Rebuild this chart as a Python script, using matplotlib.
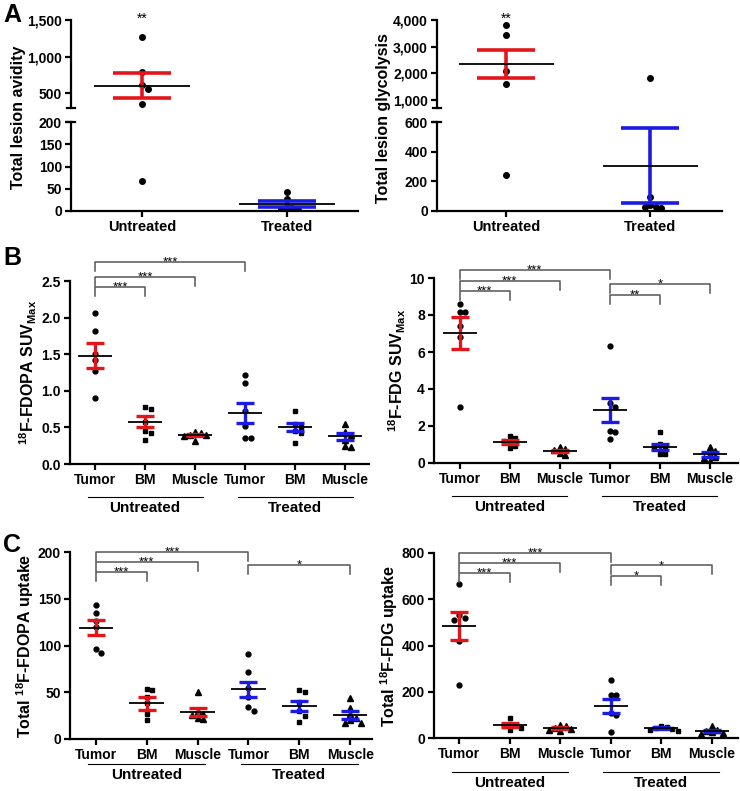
import matplotlib
matplotlib.use("Agg")
import matplotlib.pyplot as plt
import matplotlib.transforms as mtransforms
from matplotlib.ticker import FuncFormatter

plt.rcParams['font.family'] = ['Liberation Sans', 'DejaVu Sans']
plt.rcParams['font.weight'] = 'bold'
plt.rcParams['axes.labelweight'] = 'bold'
plt.rcParams['mathtext.fontset'] = 'custom'
plt.rcParams['mathtext.rm'] = 'Liberation Sans:bold'
plt.rcParams['mathtext.it'] = 'Liberation Sans:bold'
plt.rcParams['mathtext.bf'] = 'Liberation Sans:bold'
plt.rcParams['mathtext.default'] = 'rm'

RED = "#e3151b"
BLUE = "#1b1be3"
W, H = 740, 791

# ---- panel A data ----
groups = ["Untreated", "Treated"]
avidity_untreated = [1265, 790, 615, 550, 346, 67]
avidity_treated = [42, 28, 10, 6, 4, 3]
avidity_mean = [600, 15]
avidity_sem = [170, 7]

glyco_untreated = [3800, 3440, 2100, 1590, 245]
glyco_treated = [1810, 95, 40, 30, 25, 20]
glyco_mean = [2340, 306]
glyco_sem = [530, 255]

# ---- panels B, C data ----
categories = ["Tumor", "BM", "Muscle", "Tumor", "BM", "Muscle"]
markers = ["o", "s", "^", "o", "s", "^"]

fdopa_suv = [[2.06, 1.82, 1.50, 1.42, 1.27, 0.90],
             [0.78, 0.75, 0.58, 0.45, 0.42, 0.33],
             [0.44, 0.42, 0.40, 0.39, 0.38, 0.31],
             [1.22, 1.11, 0.72, 0.52, 0.36, 0.36],
             [0.73, 0.55, 0.50, 0.45, 0.42, 0.29],
             [0.55, 0.44, 0.40, 0.33, 0.25, 0.23]]
fdopa_suv_mean = [1.48, 0.58, 0.40, 0.70, 0.50, 0.38]
fdopa_suv_sem = [0.17, 0.07, 0.015, 0.135, 0.055, 0.05]

fdg_suv = [[8.6, 8.15, 8.15, 7.4, 6.8, 3.0],
           [1.45, 1.35, 1.2, 1.1, 0.9, 0.8],
           [0.85, 0.75, 0.7, 0.55, 0.45],
           [6.35, 3.25, 3.0, 1.75, 1.65, 1.3],
           [1.7, 1.0, 0.85, 0.8, 0.5, 0.5],
           [0.85, 0.65, 0.5, 0.35, 0.25, 0.1]]
fdg_suv_mean = [7.03, 1.15, 0.65, 2.85, 0.88, 0.47]
fdg_suv_sem = [0.85, 0.1, 0.07, 0.65, 0.16, 0.12]

fdopa_up = [[143, 135, 126, 120, 96, 92],
            [53, 52, 45, 38, 27, 20],
            [50, 30, 27, 26, 22, 21],
            [91, 72, 55, 45, 34, 30],
            [52, 50, 40, 30, 25, 18],
            [44, 33, 27, 22, 20, 17, 17]]
fdopa_up_mean = [119, 38, 29, 53, 35, 25.5]
fdopa_up_sem = [8, 6.5, 4.5, 8, 5.5, 4]

fdg_up = [[665, 530, 520, 510, 420, 230],
          [88, 62, 55, 50, 42, 35],
          [55, 50, 45, 40, 33, 30],
          [250, 188, 185, 100, 110, 25],
          [52, 48, 45, 40, 35, 30],
          [50, 35, 30, 25, 20, 18]]
fdg_up_mean = [483, 55, 43, 140, 42, 29]
fdg_up_sem = [60, 8, 5, 30, 5, 4]

# significance: (from, to, height, label)
sig_fdopa_suv = [(0, 3, 2.755, "***"), (0, 2, 2.56, "***"), (0, 1, 2.414, "***")]
sig_fdg_suv = [(0, 3, 10.42, "***"), (0, 2, 9.82, "***"), (0, 1, 9.28, "***"),
               (3, 5, 9.70, "*"), (3, 4, 9.10, "**")]
sig_fdopa_up = [(0, 3, 200, "***"), (0, 2, 189, "***"), (0, 1, 178.6, "***"),
                (3, 5, 185.7, "*")]
sig_fdg_up = [(0, 3, 800, "***"), (0, 2, 757, "***"), (0, 1, 714, "***"),
              (3, 5, 746, "*"), (3, 4, 700, "*")]

fig = plt.figure(figsize=(W / 100, H / 100), dpi=100)


def add_ax(l, t, r, b):
    return fig.add_axes([l / W, 1 - b / H, (r - l) / W, (b - t) / H])


def style(ax):
    for s in ["top", "right"]:
        ax.spines[s].set_visible(False)
    for s in ["left", "bottom"]:
        ax.spines[s].set_linewidth(1.6)
    ax.tick_params(width=1.6, length=4.5, labelsize=10, direction="out", pad=2)


def swarm(ax, vals, d=5.5):
    bb = ax.get_position()
    hpx, wpx = bb.height * H, bb.width * W
    y0, y1 = ax.get_ylim()
    x0, x1 = ax.get_xlim()
    ys = [(v - y0) / (y1 - y0) * hpx for v in vals]
    placed = []
    offs = [0.0] * len(vals)
    for i in sorted(range(len(vals)), key=lambda k: -vals[k]):
        for c in [0, d, -d, 2 * d, -2 * d, 3 * d, -3 * d]:
            if all((c - pc) ** 2 + (ys[i] - py) ** 2 >= (0.95 * d) ** 2 for pc, py in placed):
                break
        placed.append((c, ys[i]))
        offs[i] = c * (x1 - x0) / wpx
    return offs


def draw_group(ax, x, vals, mean, sem, color, marker, half, capsize, ms, lw):
    offs = swarm(ax, vals)
    ax.plot([x + o for o in offs], vals, ls="none", marker=marker, color="black",
            ms=ms, zorder=2)
    ax.errorbar(x, mean, yerr=sem, fmt="none", ecolor=color, elinewidth=lw,
                capsize=capsize, capthick=lw, zorder=3)
    ax.hlines(mean, x - half, x + half, color="black", lw=1.3, zorder=4)


def px_to_data(ax, px):
    y0, y1 = ax.get_ylim()
    return px * (y1 - y0) / (ax.get_position().height * H)


def bracket(ax, x1, x2, y, label, tick):
    ax.plot([x1, x1, x2, x2], [y - tick, y, y, y - tick], color="#555555", lw=1.1,
            clip_on=False, zorder=5)
    ax.annotate(label, xy=((x1 + x2) / 2, y), xytext=(0, -2.5), textcoords="offset points",
                ha="center", va="baseline", fontsize=9.5, fontweight="normal",
                annotation_clip=False)


def group_labels(ax, line_px, text_px):
    trans = mtransforms.blended_transform_factory(ax.transData, ax.transAxes)
    hpx = ax.get_position().height * H
    for c, name in zip([1, 4], groups):
        ax.plot([c - 1.15, c + 1.15], [-line_px / hpx] * 2, transform=trans,
                color="black", lw=0.8, clip_on=False)
        ax.text(c, -text_px / hpx, name, transform=trans, ha="center", va="center",
                fontsize=11)


def cap_bar(ax, y):
    # small horizontal bar centred on the left spine (axis-break marks)
    w = 4.0 / (ax.get_position().width * W)
    trans = mtransforms.blended_transform_factory(ax.transAxes, ax.transData)
    ax.plot([-w, w], [y, y], transform=trans, color="black", lw=1.6, clip_on=False)


comma = FuncFormatter(lambda v, p: f"{int(v):,}")


def broken_panel(box_up, box_lo, xlim, vals_u, vals_t, means, sems, ylim_up, ylim_lo,
                 yt_up, yt_lo, half):
    l, r = box_up[0], box_up[2]
    ax_lo = add_ax(l, box_lo[0], r, box_lo[1])
    ax_up = add_ax(l, box_up[1], r, box_up[3])
    for ax, yl, yt in [(ax_lo, ylim_lo, yt_lo), (ax_up, ylim_up, yt_up)]:
        style(ax)
        ax.set_xlim(*xlim)
        ax.set_ylim(*yl)
        ax.set_yticks(yt)
        ax.yaxis.set_major_formatter(comma)
        for i, (vals, col) in enumerate(zip([vals_u, vals_t], [RED, BLUE])):
            draw_group(ax, i, vals, means[i], sems[i], col, "o", half, 21, 4.0, 2.6)
    ax_up.spines["bottom"].set_visible(False)
    ax_up.set_xticks([])
    cap_bar(ax_up, ylim_up[0])
    cap_bar(ax_lo, ylim_lo[1])
    ax_lo.set_xticks([0, 1])
    ax_lo.set_xticklabels(groups, fontsize=10.5)
    ax_up.annotate("**", xy=(0, 1), xycoords=("data", "axes fraction"),
                   xytext=(0, -2), textcoords="offset points", ha="center",
                   va="baseline", fontsize=10, fontweight="normal", annotation_clip=False)
    return ax_up, ax_lo


# ---- Panel A ----
broken_panel((71, 20, 358, 108), (122, 211), (-0.49, 1.49), avidity_untreated,
             avidity_treated, avidity_mean, avidity_sem, (295, 1500), (0, 200),
             [500, 1000, 1500], [0, 50, 100, 150, 200], 0.33)
fig.text(19 / W, 1 - 117 / H, "Total lesion avidity", rotation=90, ha="center",
         va="center", fontsize=11.5)

broken_panel((437, 20, 722, 108), (122, 211), (-0.48, 1.50), glyco_untreated,
             glyco_treated, glyco_mean, glyco_sem, (700, 4000), (0, 600),
             [1000, 2000, 3000, 4000], [0, 200, 400, 600], 0.33)
fig.text(383 / W, 1 - 118 / H, "Total lesion glycolysis", rotation=90, ha="center",
         va="center", fontsize=11.5)


# ---- Panels B and C ----
def scatter_panel(box, xlim, ylim, yticks, fmt, data, means, sems, sigs, ylabel,
                  line_px, text_px, labelpad):
    ax = add_ax(*box)
    style(ax)
    ax.set_xlim(*xlim)
    ax.set_ylim(*ylim)
    ax.set_yticks(yticks)
    ax.yaxis.set_major_formatter(FuncFormatter(lambda v, p: fmt.format(v)))
    for i, vals in enumerate(data):
        col = RED if i < 3 else BLUE
        ms = 3.5 if markers[i] != "^" else 3.8
        draw_group(ax, i, vals, means[i], sems[i], col, markers[i], 0.34, 6.8, ms, 2.4)
    ax.set_xticks(range(len(categories)))
    ax.set_xticklabels(categories, fontsize=10)
    tick = px_to_data(ax, 9)
    for x1, x2, y, lab in sigs:
        bracket(ax, x1, x2, y, lab, tick)
    group_labels(ax, line_px, text_px)
    ax.set_ylabel(ylabel, fontsize=11.5, labelpad=labelpad)
    return ax


scatter_panel((70, 281, 369, 464), (-0.5, 5.48), (0, 2.5), [0, 0.5, 1.0, 1.5, 2.0, 2.5],
              "{:.1f}", fdopa_suv, fdopa_suv_mean, fdopa_suv_sem, sig_fdopa_suv,
              r"$^{18}$F-FDOPA SUV$_{Max}$", 32.5, 44, 1.5)
scatter_panel((434, 278, 738, 463), (-0.51, 5.56), (0, 10), [0, 2, 4, 6, 8, 10],
              "{:.0f}", fdg_suv, fdg_suv_mean, fdg_suv_sem, sig_fdg_suv,
              r"$^{18}$F-FDG SUV$_{Max}$", 33.5, 44, 1)
scatter_panel((70, 552, 372, 739), (-0.51, 5.43), (0, 200), [0, 50, 100, 150, 200],
              "{:.0f}", fdopa_up, fdopa_up_mean, fdopa_up_sem, sig_fdopa_up,
              r"Total $^{18}$F-FDOPA uptake", 25, 36, 1)
scatter_panel((434, 553, 738, 738), (-0.5, 5.52), (0, 800), [0, 200, 400, 600, 800],
              "{:.0f}", fdg_up, fdg_up_mean, fdg_up_sem, sig_fdg_up,
              r"Total $^{18}$F-FDG uptake", 33.5, 45, 1)

# panel letters
for lab, y in [("A", 15), ("B", 258), ("C", 545)]:
    fig.text(3 / W, 1 - y / H, lab, fontsize=18, ha="left", va="center")

fig.savefig("out.png", dpi=100)
